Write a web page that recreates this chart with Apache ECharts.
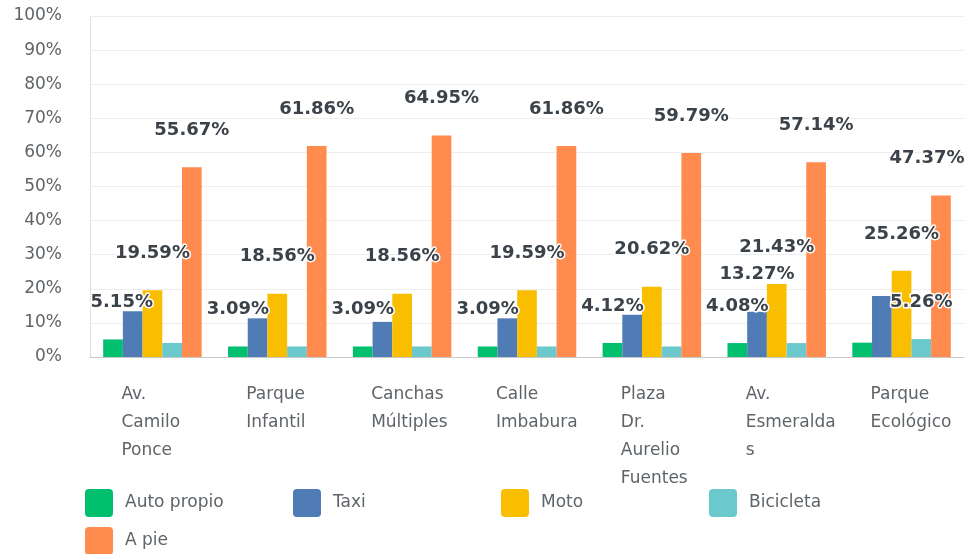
<!DOCTYPE html>
<html>
<head>
<meta charset="utf-8">
<script src="https://cdn.jsdelivr.net/npm/echarts@6/dist/echarts.min.js"></script>
<style>html,body{margin:0;padding:0;background:#fff;}#chart{width:969px;height:554px;}</style>
</head>
<body>
<div id="chart"></div>
<script>
const categories = ['Av. Camilo Ponce', 'Parque Infantil', 'Canchas Múltiples', 'Calle Imbabura', 'Plaza Dr. Aurelio Fuentes', 'Av. Esmeraldas', 'Parque Ecológico'];
const seriesNames = ['Auto propio', 'Taxi', 'Moto', 'Bicicleta', 'A pie'];
const autoPropio = [5.15, 3.09, 3.09, 3.09, 4.12, 4.08, 4.21];
const taxi       = [13.40, 11.34, 10.31, 11.34, 12.37, 13.27, 17.89];
const moto       = [19.59, 18.56, 18.56, 19.59, 20.62, 21.43, 25.26];
const bicicleta  = [4.12, 3.09, 3.09, 3.09, 3.09, 4.08, 5.26];
const aPie       = [55.67, 61.86, 64.95, 61.86, 59.79, 57.14, 47.37];
// which value labels are visible in the reference (others hidden by overlap)
const autoPropioShown = [true, true, true, true, true, true, false];
const taxiShown       = [false, false, false, false, false, true, false];
const motoShown       = [true, true, true, true, true, true, true];
const bicicletaShown  = [false, false, false, false, false, false, true];
const aPieShown       = [true, true, true, true, true, true, true];
const yTicks = [0, 10, 20, 30, 40, 50, 60, 70, 80, 90, 100];

const colors = ['#00bf6f', '#507cb6', '#f9be00', '#6bc8cd', '#ff8b4f'];
const allValues = [autoPropio, taxi, moto, bicicleta, aPie];
const allShown = [autoPropioShown, taxiShown, motoShown, bicicletaShown, aPieShown];
const FONT = 'DejaVu Sans';

function wrapLabel(v) {
  const lines = [];
  v.split(' ').forEach(w => {
    while (w.length > 9) { lines.push(w.slice(0, 9)); w = w.slice(9); }
    lines.push(w);
  });
  return lines.map(l => '{a|' + l + '}').join('\n');
}

function clampLabel(params) {
  const r = params.labelRect;
  const minX = 89, maxX = 966;
  if (r.x < minX) return {dx: minX - r.x};
  if (r.x + r.width > maxX) return {dx: maxX - (r.x + r.width)};
  return {};
}

// legend: 4 columns, 208px apart, rows 38px apart
const legends = seriesNames.map((name, i) => ({
  data: [name],
  left: 85 + (i % 4) * 208,
  top: 489 + Math.floor(i / 4) * 38,
  padding: 0,
  itemWidth: 28, itemHeight: 28,
  icon: 'path://M4,0 H24 Q28,0 28,4 V24 Q28,28 24,28 H4 Q0,28 0,24 V4 Q0,0 4,0 Z',
  textStyle: {fontFamily: FONT, fontSize: 17, color: '#5f6468', padding: [0, 0, 0, 7]}
}));

const chart = echarts.init(document.getElementById('chart'), null, {renderer: 'canvas'});
chart.setOption({
  animation: false,
  color: colors,
  grid: {left: 90, right: 5, top: 16, bottom: 197, containLabel: false},
  legend: legends,
  xAxis: {
    type: 'category',
    data: categories,
    axisTick: {show: false},
    axisLine: {lineStyle: {color: '#c8c8c8', width: 1}},
    axisLabel: {
      interval: 0,
      margin: 24,
      formatter: wrapLabel,
      rich: {a: {width: 62, align: 'left', fontFamily: FONT, fontSize: 17, color: '#5f6468', lineHeight: 28}}
    }
  },
  yAxis: {
    type: 'value', min: 0, max: 100, interval: 10,
    axisLine: {show: true, lineStyle: {color: '#e0e0e0'}},
    axisTick: {show: false},
    splitLine: {lineStyle: {color: '#ededed'}},
    axisLabel: {
      margin: 28, fontFamily: FONT, fontSize: 17, color: '#5f6468',
      formatter: v => yTicks.includes(v) ? v + '%' : ''
    }
  },
  series: seriesNames.map((name, i) => ({
    name: name,
    type: 'bar',
    barGap: 0,
    barWidth: 19.7,
    data: allValues[i].map((v, j) => ({value: v, label: {show: allShown[i][j]}})),
    label: {
      position: 'top',
      distance: 28,
      formatter: p => p.value.toFixed(2) + '%',
      fontFamily: FONT, fontSize: 18, fontWeight: 'bold', color: '#3b4249',
      textBorderColor: '#fff', textBorderWidth: 3
    },
    labelLayout: clampLabel,
    itemStyle: {color: colors[i]}
  }))
});
</script>
</body>
</html>
